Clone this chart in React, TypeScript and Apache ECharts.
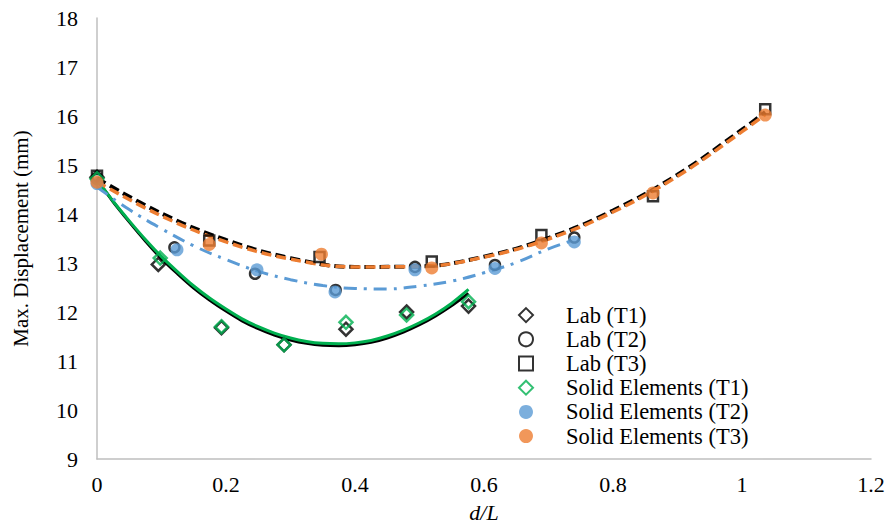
import React, { useEffect, useRef } from "react";
import * as echarts from "echarts";

// ---- tick labels ----
const xTickLabels = ["0", "0.2", "0.4", "0.6", "0.8", "1", "1.2"];
const yTickLabels = ["9", "10", "11", "12", "13", "14", "15", "16", "17", "18"];

// ---- measured points ----
const labT1X = [0, 0.095, 0.193, 0.29, 0.386, 0.48, 0.576];
const labT1Y = [14.75, 12.97, 11.68, 11.33, 11.65, 12.0, 12.12];
const labT2X = [0, 0.12, 0.245, 0.37, 0.493, 0.617, 0.74];
const labT2Y = [14.72, 13.32, 12.78, 12.45, 12.92, 12.96, 13.52];
const labT3X = [0, 0.174, 0.345, 0.519, 0.689, 0.862, 1.036];
const labT3Y = [14.78, 13.46, 13.12, 13.03, 13.57, 14.36, 16.14];
const seT1X = [0, 0.098, 0.193, 0.29, 0.386, 0.48, 0.576];
const seT1Y = [14.72, 13.1, 11.7, 11.33, 11.79, 11.94, 12.21];
const seT2X = [0, 0.124, 0.248, 0.369, 0.493, 0.617, 0.74];
const seT2Y = [14.62, 13.27, 12.86, 12.41, 12.86, 12.89, 13.43];
const seT3X = [0, 0.174, 0.348, 0.519, 0.689, 0.862, 1.036];
const seT3Y = [14.65, 13.38, 13.18, 12.9, 13.41, 14.43, 16.02];

// ---- trendline curves ----
const trendT1X = [
  0, 0.025, 0.05, 0.075, 0.1, 0.125, 0.15, 0.175, 0.2, 0.225, 0.25, 0.275,
  0.3, 0.325, 0.35, 0.375, 0.4, 0.425, 0.45, 0.475, 0.5, 0.525, 0.55, 0.576,
];
const trendT1SeY = [
  14.7, 14.26, 13.86, 13.48, 13.13, 12.82, 12.53, 12.28, 12.06, 11.86, 11.7, 11.57,
  11.47, 11.4, 11.36, 11.35, 11.37, 11.42, 11.51, 11.63, 11.78, 11.96, 12.18, 12.46,
];
const trendT1LabY = [
  14.7, 14.25, 13.84, 13.45, 13.09, 12.78, 12.49, 12.24, 12.02, 11.82, 11.66, 11.53,
  11.43, 11.36, 11.32, 11.31, 11.33, 11.38, 11.47, 11.59, 11.74, 11.92, 12.13, 12.38,
];
const trendT2X = [0, 0.05, 0.1, 0.15, 0.2, 0.25, 0.3, 0.35, 0.4, 0.45, 0.5, 0.55, 0.6, 0.65, 0.7, 0.74];
const trendT2SeY = [14.55, 14.09, 13.7, 13.35, 13.07, 12.83, 12.66, 12.54, 12.48, 12.47, 12.53, 12.63, 12.8, 13.01, 13.29, 13.47];
const trendT3X = [0, 0.1, 0.2, 0.3, 0.4, 0.5, 0.6, 0.7, 0.8, 0.9, 1.0, 1.036];
const trendT3SeY = [14.66, 13.96, 13.43, 13.08, 12.92, 12.93, 13.12, 13.49, 14.04, 14.77, 15.68, 16.03];
const trendT3LabY = [14.73, 14.01, 13.47, 13.1, 12.92, 12.93, 13.13, 13.51, 14.07, 14.8, 15.72, 16.08];

const seriesNames = [
  "Lab (T1)",
  "Lab (T2)",
  "Lab (T3)",
  "Solid Elements (T1)",
  "Solid Elements (T2)",
  "Solid Elements (T3)",
];

const zip = (xs: number[], ys: number[]) => xs.map((x, i) => [x, ys[i]]);

const FONT = "Liberation Serif";

export default function App() {
  const ref = useRef<HTMLDivElement>(null);

  useEffect(() => {
    if (!ref.current) return;
    const chart = echarts.init(ref.current, undefined, { renderer: "svg" });

    const hollow = (color: string) => ({
      color: "rgba(255,255,255,0)",
      borderColor: color,
      borderWidth: 2.5,
    });

    const trend = (xs: number[], ys: number[], color: string, width: number, type: any, z: number, smooth: number) => ({
      type: "line",
      data: zip(xs, ys),
      smooth,
      symbol: "none",
      silent: true,
      z,
      lineStyle: { color, width, type, cap: "butt" },
    });

    chart.setOption({
      animation: false,
      backgroundColor: "#fff",
      textStyle: { fontFamily: FONT },
      grid: { left: 97, right: 17, top: 18, bottom: 70, containLabel: false },
      xAxis: {
        type: "value",
        min: 0,
        max: 1.2,
        interval: 0.2,
        name: "d/L",
        nameLocation: "middle",
        nameGap: 42,
        nameTextStyle: { fontFamily: FONT, fontSize: 22, fontStyle: "italic", color: "#000" },
        axisLine: { show: true, onZero: false, lineStyle: { color: "#BFBFBF", width: 1.5 } },
        axisTick: { show: false },
        splitLine: { show: false },
        axisLabel: {
          margin: 14,
          fontFamily: FONT,
          fontSize: 22,
          color: "#000",
          formatter: (_v: number, i: number) => xTickLabels[i],
        },
      },
      yAxis: {
        type: "value",
        min: 9,
        max: 18,
        interval: 1,
        name: "Max. Displacement (mm)",
        nameLocation: "middle",
        nameGap: 66,
        nameTextStyle: { fontFamily: FONT, fontSize: 21, color: "#000" },
        axisLine: { show: true, onZero: false, lineStyle: { color: "#BFBFBF", width: 1.5 } },
        axisTick: { show: false },
        splitLine: { show: false },
        axisLabel: {
          margin: 19,
          fontFamily: FONT,
          fontSize: 22,
          color: "#000",
          formatter: (_v: number, i: number) => yTickLabels[i],
        },
      },
      legend: {
        data: seriesNames,
        orient: "vertical",
        left: 513,
        top: 298,
        itemWidth: 14,
        itemHeight: 14,
        itemGap: 0,
        selectedMode: false,
        textStyle: {
          fontFamily: FONT,
          fontSize: 22.5,
          color: "#000",
          lineHeight: 24.2,
          padding: [0, 0, 0, 28],
        },
      },
      series: [
        trend(trendT1X, trendT1LabY, "#000000", 3, "solid", 2, 0.3),
        trend(trendT1X, trendT1SeY, "#00B050", 3, "solid", 2, 0.3),
        trend(trendT2X, trendT2SeY, "#5B9BD5", 3, [13, 7, 3, 7], 2, 0.4),
        trend(trendT3X, trendT3LabY, "#000000", 4, [10, 5], 2, 0.4),
        trend(trendT3X, trendT3SeY, "#ED7D31", 3.5, [10, 5], 2, 0.4),
        {
          name: seriesNames[0],
          type: "scatter",
          z: 3,
          symbol: "diamond",
          symbolSize: 13,
          itemStyle: hollow("#000000"),
          data: zip(labT1X, labT1Y),
        },
        {
          name: seriesNames[1],
          type: "scatter",
          z: 3,
          symbol: "circle",
          symbolSize: 10,
          itemStyle: hollow("#000000"),
          data: zip(labT2X, labT2Y),
        },
        {
          name: seriesNames[2],
          type: "scatter",
          z: 3,
          symbol: "rect",
          symbolSize: 10,
          itemStyle: hollow("#000000"),
          data: zip(labT3X, labT3Y),
        },
        {
          name: seriesNames[3],
          type: "scatter",
          z: 3,
          symbol: "diamond",
          symbolSize: 13,
          itemStyle: hollow("#00B050"),
          data: zip(seT1X, seT1Y),
        },
        {
          name: seriesNames[4],
          type: "scatter",
          z: 3,
          symbol: "circle",
          symbolSize: 13,
          itemStyle: { color: "#5B9BD5" },
          data: zip(seT2X, seT2Y),
        },
        {
          name: seriesNames[5],
          type: "scatter",
          z: 3,
          symbol: "circle",
          symbolSize: 13,
          itemStyle: { color: "#ED7D31" },
          data: zip(seT3X, seT3Y),
        },
      ],
    });

    return () => chart.dispose();
  }, []);

  return (
    <div
      ref={ref}
      style={{ position: "absolute", left: 0, top: 0, width: 888, height: 529 }}
    />
  );
}
